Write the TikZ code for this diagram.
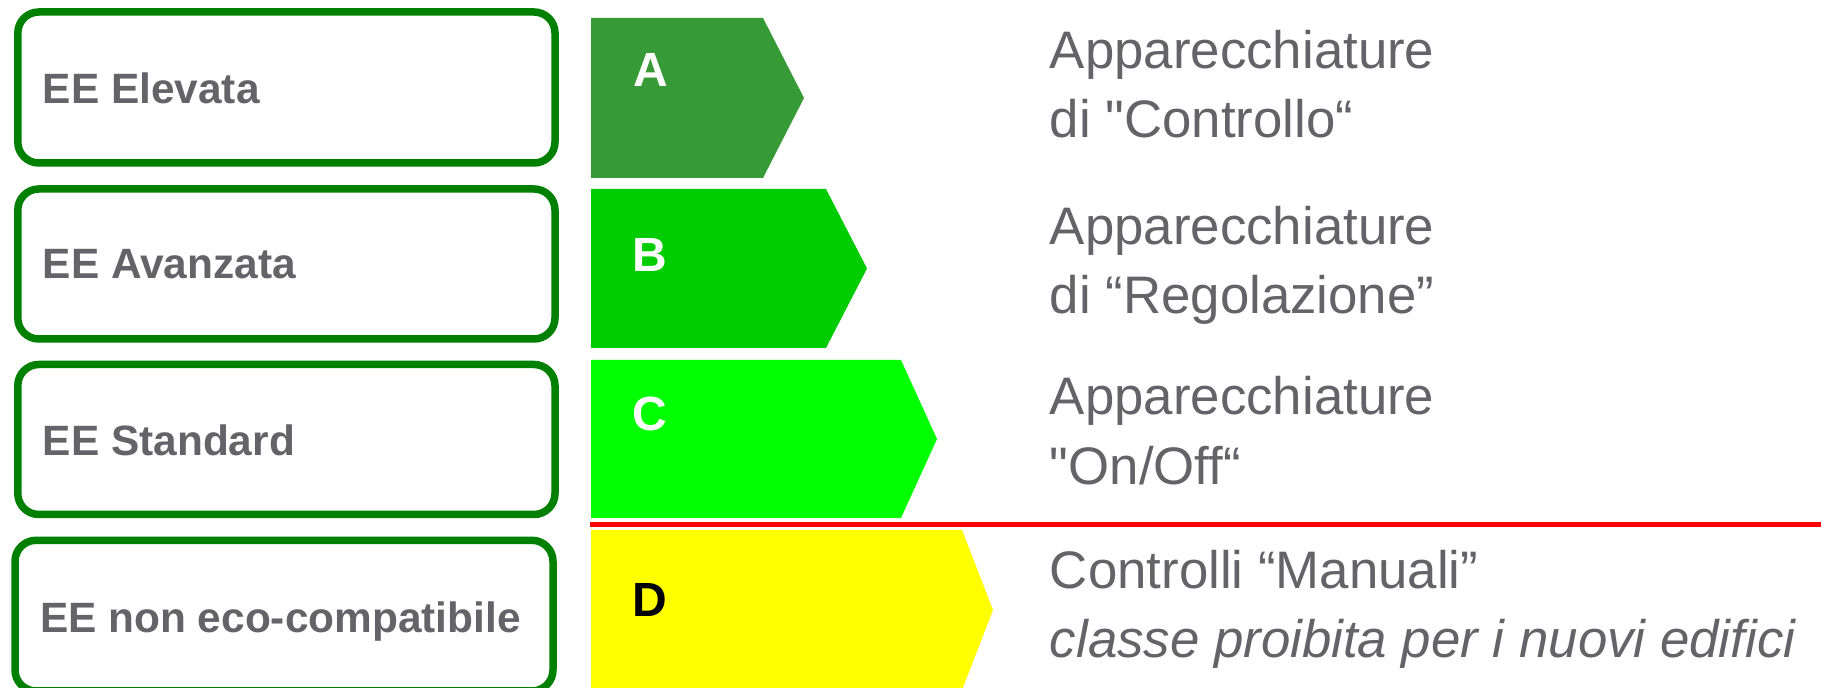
\documentclass[tikz,border=0pt]{standalone}
\usepackage{fontspec}
% Arial-metric face for all labels
\newfontfamily\labelfont[Ligatures=TeXOff]{Liberation Sans}

\definecolor{boxgreen}{RGB}{0,128,0}
\definecolor{textgray}{RGB}{99,99,104}
\definecolor{classAcol}{RGB}{54,154,54}
\definecolor{classBcol}{RGB}{0,204,0}
\definecolor{classCcol}{RGB}{0,255,0}
\definecolor{classDcol}{RGB}{255,255,0}
\definecolor{limitred}{RGB}{255,0,0}

\begin{document}
\begin{tikzpicture}[x=0.5pt,y=-0.5pt,
  levelbox/.style={draw=boxgreen,line width=3.75pt,rounded corners=10.5pt},
  levellabel/.style={anchor=base west,inner sep=0pt,text=textgray,
    font=\labelfont\bfseries\fontsize{21.2pt}{25pt}\selectfont},
  classletter/.style={anchor=base west,inner sep=0pt,
    font=\labelfont\bfseries\fontsize{24pt}{29pt}\selectfont},
  desc/.style={anchor=base west,inner sep=0pt,text=textgray,
    font=\labelfont\fontsize{26.4pt}{31pt}\selectfont},
  limitline/.style={draw=limitred,line width=2.5pt}]

\useasboundingbox (0,0) rectangle (1821,688);
\clip (0,0) rectangle (1821,688);

% Efficiency level boxes
\draw[levelbox] (17.8,12) rectangle (555,163);
\draw[levelbox] (17.8,189) rectangle (555,339);
\draw[levelbox] (17.8,364.5) rectangle (555,514.5);
\draw[levelbox] (15,540.3) rectangle (553,691);

\node[levellabel] (lvA) at (42.5,104) {EE Elevata};
\node[levellabel] (lvB) at (42.5,279) {EE Avanzata};
\node[levellabel] (lvC) at (42.5,456) {EE Standard};
\node[levellabel] (lvD) at (39.7,633) {EE non eco-compatibile};

% Class bars
\fill[classAcol] (591,18) -- (763,18) -- (804,98) -- (763,178) -- (591,178) -- cycle;
\fill[classBcol] (591,189) -- (826,189) -- (867,268.5) -- (826,348) -- (591,348) -- cycle;
\fill[classCcol] (591,360) -- (901,360) -- (937,439) -- (901,518) -- (591,518) -- cycle;
\fill[classDcol] (591,530) -- (962,530) -- (993,610) -- (962,690) -- (591,690) -- cycle;

\node[classletter,text=white] (clA) at (633,87) {A};
\node[classletter,text=white] (clB) at (632,272) {B};
\node[classletter,text=white] (clC) at (632,431) {C};
\node[classletter,text=black] (clD) at (632,617) {D};

% Limit between permitted and prohibited classes
\draw[limitline] (590,524.5) -- (1821,524.5);

% Descriptions
\node[desc] (dA1) at (1049.5,69) {Apparecchiature};
\node[desc] (dA2) at (1049.5,138) {di "Controllo“};
\node[desc] (dB1) at (1049.5,245) {Apparecchiature};
\node[desc] (dB2) at (1049.5,314) {di “Regolazione”};
\node[desc] (dC1) at (1049.5,415) {Apparecchiature};
\node[desc] (dC2) at (1049.5,485) {"On/Off“};
\node[desc] (dD1) at (1049.5,589) {Controlli “Manuali”};
\node[desc] (dD2) at (1049.5,658) {\itshape classe proibita per i nuovi edifici};
\end{tikzpicture}
\end{document}
